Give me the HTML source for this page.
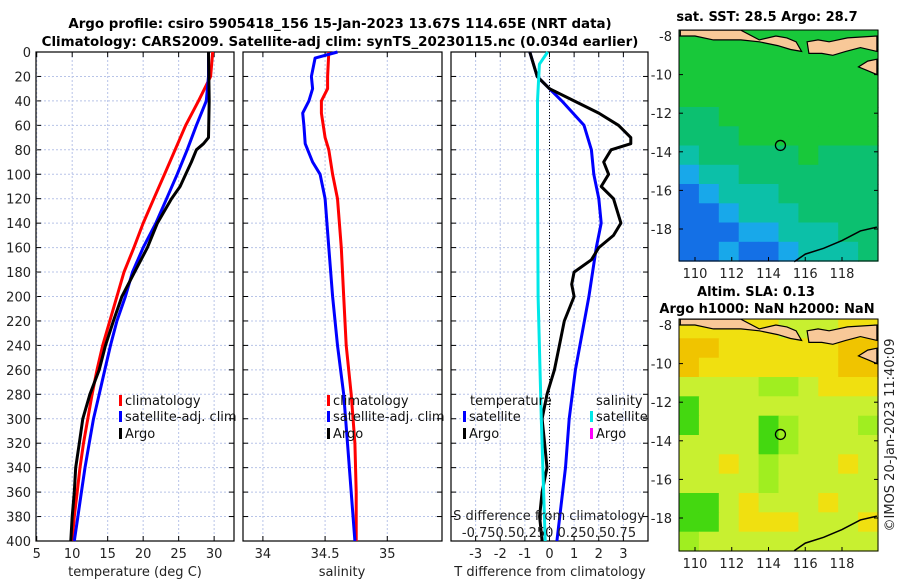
<!DOCTYPE html>
<html><head><meta charset="utf-8"><style>
html,body{margin:0;padding:0;background:#fff}
svg{display:block;font-family:"DejaVu Sans","Liberation Sans",sans-serif}
</style></head><body>
<svg id="s" width="900" height="580" viewBox="0 0 900 580" xmlns="http://www.w3.org/2000/svg">
<text x="340" y="28" text-anchor="middle" font-size="13.4" font-weight="bold">Argo profile: csiro 5905418_156 15-Jan-2023 13.67S 114.65E (NRT data)</text>
<text x="340" y="46" text-anchor="middle" font-size="13.4" font-weight="bold">Climatology: CARS2009. Satellite-adj clim: synTS_20230115.nc (0.034d earlier)</text>
<text x="767" y="21" text-anchor="middle" font-size="13" font-weight="bold">sat. SST: 28.5 Argo: 28.7</text>
<text x="756" y="296" text-anchor="middle" font-size="13" font-weight="bold">Altim. SLA: 0.13</text>
<text x="767" y="313" text-anchor="middle" font-size="13" font-weight="bold">Argo h1000: NaN h2000: NaN</text>
<text transform="translate(894,435) rotate(-90)" text-anchor="middle" font-size="13" fill="#222">©IMOS 20-Jan-2023 11:40:09</text>
</svg>
<script>
// ---- data ----
const depths = [0,20,40,60,80,100,120,140,160,180,200,220,240,260,280,300,320,340,360,380,400];
const tClim = [29.8,29.5,27.8,26.0,24.5,23.0,21.5,20.0,18.7,17.3,16.3,15.3,14.3,13.5,12.8,12.2,11.6,11.1,10.7,10.3,10.0];
const tSat = [29.2,29.2,28.9,27.5,26.2,24.8,23.3,21.8,20.0,18.5,17.5,16.3,15.4,14.6,13.8,13.0,12.4,11.8,11.3,10.8,10.3];
const argoDepths = [0,40,70,75,80,90,100,110,120,140,160,180,200,220,240,260,280,300,320,340,360,380,400];
const tArgo = [29.2,29.3,29.2,28.5,27.5,26.8,26.0,25.2,24.0,22.0,20.6,18.8,17.0,15.8,14.7,13.8,12.5,11.5,11.0,10.5,10.3,10.0,9.8];
const sDepths = [0,20,30,40,50,70,80,100,120,160,200,240,280,320,360,400];
const sClim = [34.53,34.52,34.52,34.47,34.47,34.50,34.53,34.56,34.60,34.63,34.65,34.67,34.71,34.74,34.75,34.75];
const sSatDepths = [0,5,20,30,40,50,60,75,90,100,120,160,200,240,280,320,360,400];
const sSat = [34.60,34.42,34.39,34.40,34.37,34.32,34.33,34.34,34.40,34.46,34.50,34.53,34.56,34.60,34.65,34.68,34.71,34.74];
const dDepths = [0,20,30,40,50,60,70,75,80,90,100,110,120,140,150,160,170,180,190,200,220,240,260,280,300,320,340,360,380,400];
const dTArgo = [-0.8,-0.5,0,1.0,2.0,2.8,3.3,3.3,2.5,2.2,2.4,2.1,2.6,2.9,2.6,2.0,1.7,1.0,0.9,1.0,0.6,0.4,0.2,-0.1,-0.3,-0.2,-0.1,-0.3,-0.4,-0.3];
const dTSatDepths = [0,20,40,60,80,100,120,140,160,200,260,300,340,400];
const dTSat = [-0.8,-0.5,0.5,1.4,1.7,1.8,2.0,2.1,1.9,1.6,1.05,0.8,0.65,0.3];
const dSDepths = [0,10,40,100,200,300,400];
const dSSat = [-0.02,-0.15,-0.18,-0.18,-0.17,-0.12,-0.06];
const yTicks = [0,20,40,60,80,100,120,140,160,180,200,220,240,260,280,300,320,340,360,380,400];
const tTicks = [5,10,15,20,25,30];
const sTicks = [34,34.5,35];
const dTicks = [-3,-2,-1,0,1,2,3];
const latTicks = [-8,-10,-12,-14,-16,-18];
const lonTicks = [110,112,114,116,118];
const sstGrid = ["0000000000","0000000000","0000000000","0000000000","1100000000","1110000000","2111110111","3221111111","4322211111","4432221111","4443322211","4434432221"];
const slaGrid = ["1111122211","0011111100","0111111100","2222332111","4222222222","4222432223","2222432222","2212322212","2222322222","4421222122","4421112221","3222222222"];
const argoLon = 114.65, argoLat = -13.67;

// ---- helpers ----
const S = document.getElementById('s');
const NS = 'http://www.w3.org/2000/svg';
function mk(tag, at, parent){const e=document.createElementNS(NS,tag);for(const k in at)e.setAttribute(k,at[k]);(parent||S).appendChild(e);return e;}
const Y0=52, Y1=541;
const yS = d => Y0 + (d/400)*(Y1-Y0);
const panels = [
 {x0:36,x1:234,v0:4.9,v1:32.8,ticks:tTicks,name:'temperature-panel'},
 {x0:243,x1:442,v0:33.84,v1:35.44,ticks:sTicks,name:'salinity-panel'},
 {x0:451,x1:648,v0:-4.0,v1:4.0,ticks:dTicks,name:'difference-panel'}
];
panels.forEach(p=>{p.f=v=>p.x0+(v-p.v0)/(p.v1-p.v0)*(p.x1-p.x0);});
const dS = v => 549 + v*64;

panels.forEach((p,pi)=>{
  const g=mk('g',{});
  
  
  yTicks.forEach(d=>{
    const l=mk('line',{x1:p.x0,x2:p.x1,y1:yS(d),y2:yS(d),stroke:'#b8c4e8','stroke-width':1,'stroke-dasharray':'2,2'},g);
    
    
    mk('line',{x1:p.x0,x2:p.x0+5,y1:yS(d),y2:yS(d),stroke:'#000'},g);
    mk('line',{x1:p.x1,x2:p.x1-5,y1:yS(d),y2:yS(d),stroke:'#000'},g);
  });
  p.ticks.forEach(v=>{
    const x=p.f(v);
    const l=mk('line',{x1:x,x2:x,y1:Y0,y2:Y1,stroke:'#b8c4e8','stroke-dasharray':'2,2'},g);
    
    
    mk('line',{x1:x,x2:x,y1:Y1,y2:Y1-5,stroke:'#000'},g);
    mk('line',{x1:x,x2:x,y1:Y0,y2:Y0+5,stroke:'#000'},g);
    const t=mk('text',{x:x,y:558,'text-anchor':'middle','font-size':13,fill:'#222'},g);
    t.textContent=String(v);
    
    
  });
  const b=mk('rect',{x:p.x0,y:Y0,width:p.x1-p.x0,height:Y1-Y0,fill:'none',stroke:'#000','stroke-width':1.2},g);
  
  
});
yTicks.forEach(d=>{
  const t=mk('text',{x:31,y:yS(d)+5,'text-anchor':'end','font-size':13,fill:'#222'});
  t.textContent=String(d);
  
  
});
const zl=mk('line',{x1:panels[2].f(0),x2:panels[2].f(0),y1:Y0,y2:Y1,stroke:'#000','stroke-dasharray':'1,2'});



function line(xs,ds,fx,color,name){
  const pts=xs.map((v,i)=>fx(v).toFixed(1)+','+yS(ds[i]).toFixed(1)).join(' ');
  const e=mk('polyline',{points:pts,fill:'none',stroke:color,'stroke-width':3,'stroke-linejoin':'round'});
  
  
}
const P=panels;
line(tClim,depths,P[0].f,'#f00','temp-climatology-line');
line(tSat,depths,P[0].f,'#00f','temp-satellite-line');
line(tArgo,argoDepths,P[0].f,'#000','temp-argo-line');
line(sClim,sDepths,P[1].f,'#f00','sal-climatology-line');
line(sSat,sSatDepths,P[1].f,'#00f','sal-satellite-line');
line(dTSat,dTSatDepths,P[2].f,'#00f','tdiff-satellite-line');
line(dTArgo,dDepths,P[2].f,'#000','tdiff-argo-line');
line(dSSat,dSDepths,dS,'#00e8e8','sdiff-satellite-line');

[['temperature (deg C)',135,576,'temp-x-axis-title'],['salinity',342,576,'sal-x-axis-title'],['T difference from climatology',550,576,'tdiff-x-axis-title']].forEach(a=>{
  const t=mk('text',{x:a[1],y:a[2],'text-anchor':'middle','font-size':13,fill:'#222'});
  t.textContent=a[0];
  
  
});
const sdl=mk('text',{x:549,y:520,'text-anchor':'middle','font-size':13,fill:'#222'});
sdl.textContent='S difference from climatology';


const sdt=mk('text',{x:549,y:537,'text-anchor':'middle','font-size':13,fill:'#222'});
sdt.textContent='-0.750.50.250 0.250.50.75';



function leg(x,y,color,label,name){
  if(color){const r=mk('rect',{x:x,y:y-10,width:3,height:11,fill:color});}
  const t=mk('text',{x:x+(color?6:0),y:y,'font-size':13,fill:'#111'});
  t.textContent=label;
  
  
}
leg(119,405,'#f00','climatology','legend-climatology');
leg(119,421,'#00f','satellite-adj. clim','legend-satellite-adj');
leg(119,438,'#000','Argo','legend-argo');
leg(327,405,'#f00','climatology','legend-sal-climatology');
leg(327,421,'#00f','satellite-adj. clim','legend-sal-satellite-adj');
leg(327,438,'#000','Argo','legend-sal-argo');
leg(470,405,null,'temperature','legend-temperature-header');
leg(463,421,'#00f','satellite','legend-tdiff-satellite');
leg(463,438,'#000','Argo','legend-tdiff-argo');
leg(596,405,null,'salinity','legend-salinity-header');
leg(590,421,'#00e8e8','satellite','legend-sdiff-satellite');
leg(590,438,'#f0f','Argo','legend-sdiff-argo');

const sstCols=['#18c83a','#0cc070','#0cc0a8','#18a8ea','#1470e6'];
const slaCols=['#f0c400','#f0e010','#c8f030','#a0ee20','#44d810'];
function map(y0,y1,lat8y,lat18y,grid,cols,name){
  const mx0=679,mx1=878;
  const lonf=v=>695+(v-110)*(842-695)/8;
  const latf=v=>lat8y+(v+8)/(-10)*(lat18y-lat8y);
  const g=mk('g',{});
  
  
  const nr=grid.length,nc=grid[0].length;
  for(let r=0;r<nr;r++)for(let c=0;c<nc;c++){
    const x=mx0+c*(mx1-mx0)/nc,y=y0+r*(y1-y0)/nr;
    const cell=mk('rect',{x:x.toFixed(1),y:y.toFixed(1),width:((mx1-mx0)/nc+0.6).toFixed(1),height:((y1-y0)/nr+0.6).toFixed(1),fill:cols[+grid[r][c]]},g);
    
    
  }
  const landPts=[[109.2,-7.7],[112.5,-7.7],[113.5,-8.2],[114.4,-8.0],[115.0,-8.1],[115.5,-8.3],[115.8,-8.8],[115.2,-8.7],[114.5,-8.5],[113.5,-8.3],[112.5,-8.2],[111,-8.2],[110,-8.0],[109.2,-8.0]];
  const land=mk('polygon',{points:landPts.map(p=>lonf(p[0]).toFixed(1)+','+latf(p[1]).toFixed(1)).join(' '),fill:'#f8c898',stroke:'#000','stroke-width':1.2},g);
  
  
  const land2Pts=[[116.1,-8.3],[116.7,-8.2],[117.3,-8.3],[118.3,-8.1],[119.9,-8.0],[119.9,-8.8],[119,-8.6],[118.2,-8.8],[117.5,-9.0],[116.9,-8.9],[116.2,-8.9]];
  const land2=mk('polygon',{points:land2Pts.map(p=>lonf(p[0]).toFixed(1)+','+latf(p[1]).toFixed(1)).join(' '),fill:'#f8c898',stroke:'#000','stroke-width':1.2},g);
  
  
  const land3Pts=[[118.9,-9.6],[119.4,-9.3],[119.9,-9.2],[119.9,-10.0],[119.4,-9.8]];
  const land3=mk('polygon',{points:land3Pts.map(p=>lonf(p[0]).toFixed(1)+','+latf(p[1]).toFixed(1)).join(' '),fill:'#f8c898',stroke:'#000','stroke-width':1.2},g);
  
  
  const coast=[[115.4,-19.7],[116,-19.3],[117,-19.0],[118,-18.6],[119,-18.1],[119.9,-17.9]];
  const cl=mk('polyline',{points:coast.map(p=>lonf(p[0]).toFixed(1)+','+latf(p[1]).toFixed(1)).join(' '),fill:'none',stroke:'#000','stroke-width':1.5},g);
  
  
  const ci=mk('circle',{cx:lonf(argoLon),cy:latf(argoLat),r:5,fill:'none',stroke:'#000','stroke-width':1.3},g);
  
  
  const fr=mk('rect',{x:mx0,y:y0,width:mx1-mx0,height:y1-y0,fill:'none',stroke:'#000'},g);
  
  
  latTicks.forEach(v=>{
    const y=latf(v);
    mk('line',{x1:mx0,x2:mx0+4,y1:y,y2:y,stroke:'#000'},g);
    mk('line',{x1:mx1,x2:mx1-4,y1:y,y2:y,stroke:'#000'},g);
    const t=mk('text',{x:672,y:y+5,'text-anchor':'end','font-size':13,fill:'#222'},g);
    t.textContent=String(v);
    
    
  });
  lonTicks.forEach(v=>{
    const x=lonf(v);
    mk('line',{x1:x,x2:x,y1:y1,y2:y1-4,stroke:'#000'},g);
    const t=mk('text',{x:x,y:y1+17,'text-anchor':'middle','font-size':13,fill:'#222'},g);
    t.textContent=String(v);
    
    
  });
}
map(30,261,36,229,sstGrid,sstCols,'sst-map');
map(319,551,325,518,slaGrid,slaCols,'sla-map');
</script>
</body></html>
